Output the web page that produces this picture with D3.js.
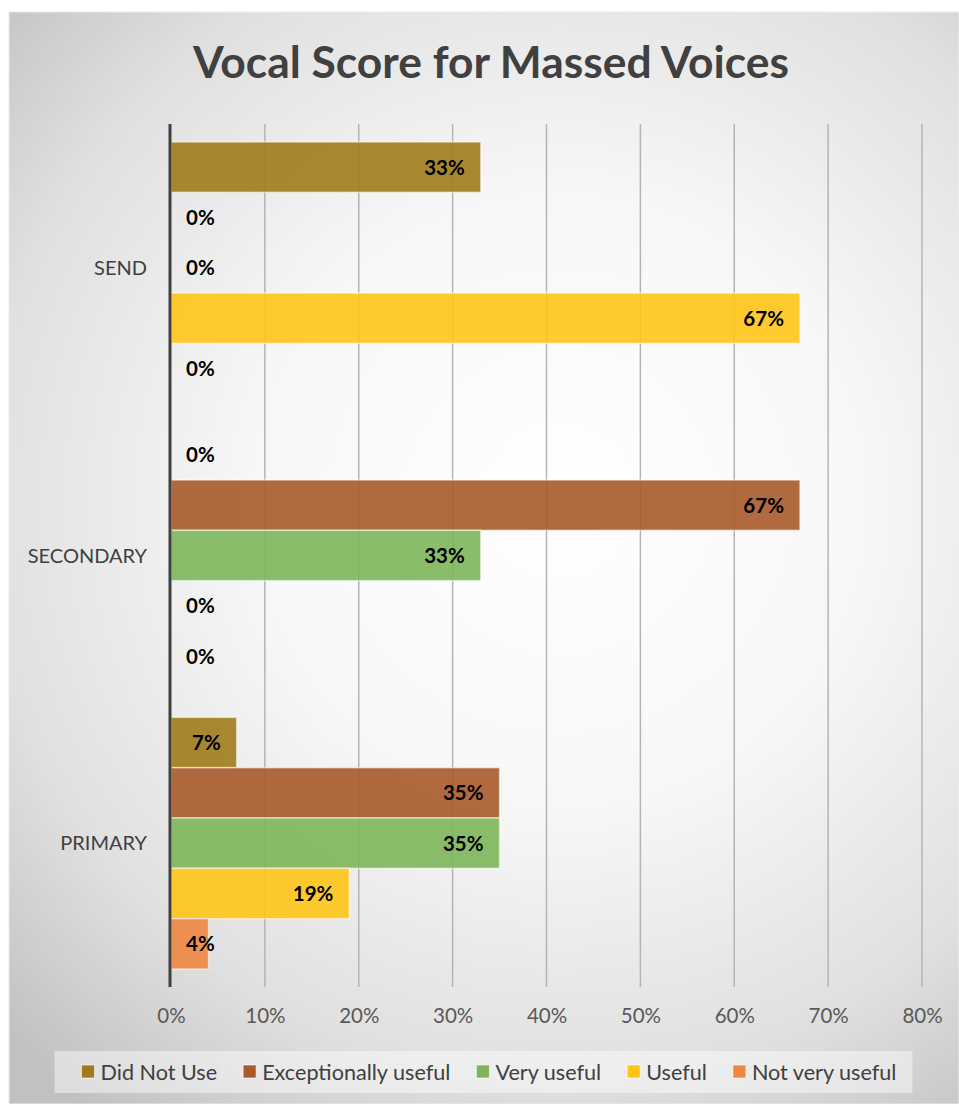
<!DOCTYPE html>
<html>
<head>
<meta charset="utf-8">
<script src="https://cdn.jsdelivr.net/npm/d3@7"></script>
<style>
  body { margin: 0; background: #fff; }
  svg { display: block; font-family: Lato, "Open Sans", sans-serif; }
</style>
</head>
<body>
<div id="chart"></div>
<script>
const categories = ['SEND', 'SECONDARY', 'PRIMARY'];
const seriesNames = ['Did Not Use', 'Exceptionally useful', 'Very useful', 'Useful', 'Not very useful'];
// values per category, in series order
const didNotUse = [0.33, 0, 0.07];
const exceptionallyUseful = [0, 0.67, 0.35];
const veryUseful = [0, 0.33, 0.35];
const useful = [0.67, 0, 0.19];
const notVeryUseful = [0, 0, 0.04];
const xTicks = [0, 0.1, 0.2, 0.3, 0.4, 0.5, 0.6, 0.7, 0.8];

const COLORS = ['#a07b1c', '#a9592a', '#7cb659', '#ffc417', '#ef8642'];
const WIDTH = 959, HEIGHT = 1104;
const PLOT = { left: 171, right: 922, top: 124, bottom: 987 };

const seriesValues = [didNotUse, exceptionallyUseful, veryUseful, useful, notVeryUseful];
const rows = [];
categories.forEach((c, ci) => {
  seriesNames.forEach((s, si) => {
    rows.push({ cat: c, series: s, si: si, value: seriesValues[si][ci] });
  });
});

const svg = d3.select('#chart').append('svg')
  .attr('width', WIDTH)
  .attr('height', HEIGHT);

const defs = svg.append('defs');
const grad = defs.append('radialGradient')
  .attr('id', 'bg')
  .attr('gradientUnits', 'userSpaceOnUse')
  .attr('cx', 560).attr('cy', 500).attr('r', 770);
[[0, '#ffffff'], [0.4, '#f7f7f7'], [0.75, '#e0e0e0'], [1, '#c1c1c1']].forEach(s => {
  grad.append('stop').attr('offset', s[0]).attr('stop-color', s[1]);
});

// chart area
svg.append('rect')
  .attr('x', 9).attr('y', 12)
  .attr('width', WIDTH - 9).attr('height', HEIGHT - 12)
  .attr('fill', 'url(#bg)')
  .attr('stroke', '#ececec')
  .attr('stroke-width', 1);

// title
const title = svg.append('text')
  .attr('x', 491)
  .attr('y', 78)
  .attr('text-anchor', 'middle')
  .attr('font-size', 43)
  .attr('font-weight', 700)
  .attr('fill', '#404040')
  .text('Vocal Score for Massed Voices');
const tw = title.node().getComputedTextLength();
if (Math.abs(tw - 596) > 6) {
  title.attr('textLength', 596).attr('lengthAdjust', 'spacingAndGlyphs');
}

const x = d3.scaleLinear()
  .domain([0, 0.8])
  .range([PLOT.left, PLOT.right]);

const y0 = d3.scaleBand()
  .domain(categories)
  .range([PLOT.top, PLOT.bottom]);

const y1 = d3.scaleBand()
  .domain(seriesNames)
  .range([18, y0.bandwidth() - 18]);

// gridlines
svg.append('g')
  .selectAll('line')
  .data(xTicks.slice(1))
  .join('line')
    .attr('x1', d => x(d)).attr('x2', d => x(d))
    .attr('y1', PLOT.top).attr('y2', PLOT.bottom)
    .attr('stroke', '#b4b4b4')
    .attr('stroke-width', 1.5);

// x axis labels
const xAxis = d3.axisBottom(x)
  .tickValues(xTicks)
  .tickFormat(d3.format('.0%'))
  .tickSize(0)
  .tickPadding(0);
const xAxisGroup = svg.append('g')
  .attr('transform', `translate(0, 1014)`)
  .call(xAxis);
xAxisGroup.select('.domain').remove();
xAxisGroup.selectAll('text')
  .attr('font-size', 20.5)
  .attr('font-family', 'Lato, sans-serif')
  .attr('fill', '#595959')
  .attr('dy', '0.71em')
  .attr('y', -6);

// bars
const barG = svg.append('g');
barG.selectAll('rect')
  .data(rows.filter(d => d.value > 0))
  .join('rect')
    .attr('x', x(0))
    .attr('y', d => y0(d.cat) + y1(d.series))
    .attr('width', d => x(d.value) - x(0))
    .attr('height', y1.bandwidth())
    .attr('fill', d => COLORS[d.si])
    .attr('fill-opacity', 0.9)
    .attr('stroke', 'rgba(255,255,255,0.55)')
    .attr('stroke-width', 1.5);

// data labels
const labels = svg.append('g')
  .selectAll('text')
  .data(rows)
  .join('text')
    .attr('font-size', 20.5)
    .attr('font-weight', 700)
    .attr('fill', '#000')
    .attr('y', d => y0(d.cat) + y1(d.series) + y1.bandwidth() / 2 + 7.5)
    .text(d => d3.format('.0%')(d.value));
labels.each(function(d) {
  const w = this.getComputedTextLength();
  const xs = Math.max(x(d.value) - 16 - w, 186);
  d3.select(this).attr('x', xs);
});

// vertical axis
svg.append('line')
  .attr('x1', 170).attr('x2', 170)
  .attr('y1', PLOT.top).attr('y2', PLOT.bottom)
  .attr('stroke', '#404040')
  .attr('stroke-width', 3);

// category labels
svg.append('g')
  .selectAll('text')
  .data(categories)
  .join('text')
    .attr('x', 147)
    .attr('y', d => y0(d) + y0.bandwidth() / 2 + 7)
    .attr('text-anchor', 'end')
    .attr('font-size', 20)
    .attr('fill', '#404040')
    .text(d => d);

// legend
const legendBox = svg.append('rect')
  .attr('y', 1051)
  .attr('height', 42)
  .attr('fill', 'rgba(255,255,255,0.45)');
const legend = svg.append('g');
let lx = 0;
seriesNames.forEach((s, i) => {
  const item = legend.append('g').attr('transform', `translate(${lx}, 0)`);
  item.append('rect')
    .attr('x', 0).attr('y', 1065)
    .attr('width', 13).attr('height', 13)
    .attr('fill', COLORS[i])
    .attr('stroke', 'rgba(255,255,255,0.6)')
    .attr('stroke-width', 1);
  const t = item.append('text')
    .attr('x', 19).attr('y', 1079.5)
    .attr('font-size', 21.6)
    .attr('fill', '#404040')
    .text(s);
  lx += 19 + t.node().getComputedTextLength() + 26;
});
const legendW = lx - 26;
const legendX = 484 - legendW / 2 + 5;
legend.attr('transform', `translate(${legendX}, 0)`);
legendBox.attr('x', legendX - 27).attr('width', legendW + 43);
</script>
</body>
</html>
